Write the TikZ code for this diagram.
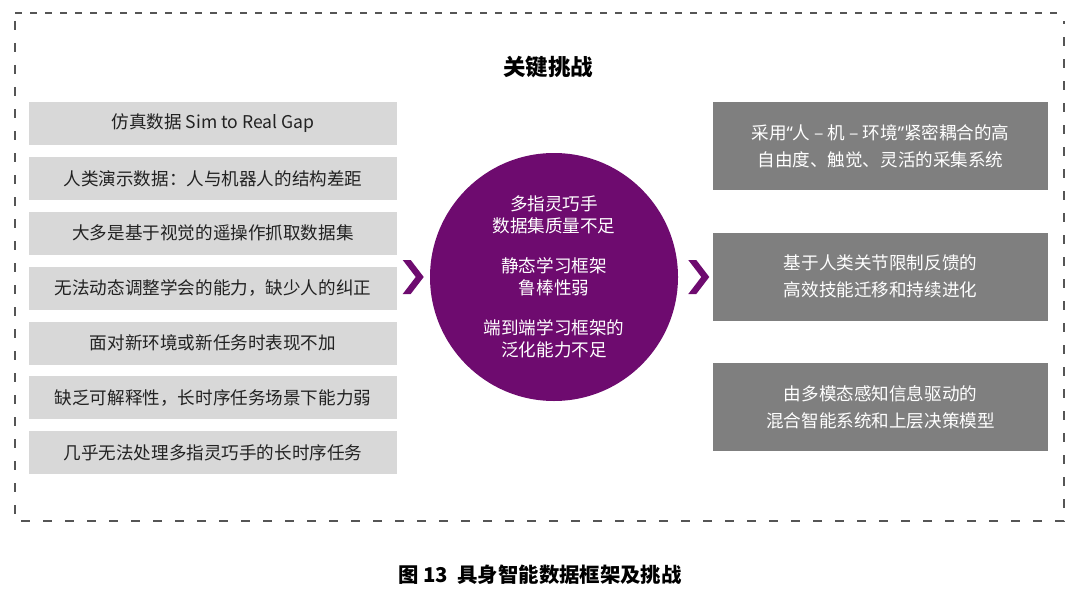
\documentclass[tikz,border=0pt]{standalone}
\usepackage{fontspec}
\setmainfont{Noto Sans CJK SC}
\newfontfamily\quotefont{Noto Sans}
\usetikzlibrary{positioning,calc}
\definecolor{hubpurple}{RGB}{110,11,111}
\definecolor{gaplight}{RGB}{216,216,216}
\definecolor{pathgray}{RGB}{127,127,127}
\definecolor{framegray}{RGB}{85,85,85}
\definecolor{inkdark}{RGB}{34,34,34}

\begin{document}
\begin{tikzpicture}[
  gap/.style={fill=gaplight, text=inkdark, minimum width=9.2cm, minimum height=1.075cm, inner sep=0pt, font=\fontsize{12.5pt}{15pt}\selectfont},
  route/.style={fill=pathgray, text=white, minimum width=8.375cm, minimum height=2.2cm, inner sep=0pt, align=center, font=\fontsize{12.5pt}{19pt}\selectfont},
  hub/.style={circle, fill=hubpurple, text=white, minimum size=6.2cm, inner sep=0pt, align=center, font=\fontsize{12.5pt}{15.6pt}\selectfont},
  chevron/.style={fill=hubpurple}
]
  \useasboundingbox[fill=white] (0,0) rectangle (27,14.825);

  % outer frame
  \draw[framegray, line width=1.2pt, dash pattern=on 0.175cm off 0.2cm] (0.375,14.5) -- (26.6,14.5);
  \draw[framegray, line width=1.2pt, dash pattern=on 0.225cm off 0.325cm] (0.375,14.3) -- (0.375,1.8) -- (26.6,1.8) -- (26.6,14.3);

  \node[font=\fontsize{16pt}{18pt}\selectfont\bfseries] (title) at (13.7,13.15) {关键挑战};

  % left: data gaps
  \node[gap] (g1) at (5.325,11.7375) {仿真数据 Sim to Real Gap};
  \node[gap, below=0.283cm of g1] (g2) {人类演示数据：人与机器人的结构差距};
  \node[gap, below=0.283cm of g2] (g3) {大多是基于视觉的遥操作抓取数据集};
  \node[gap, below=0.283cm of g3] (g4) {无法动态调整学会的能力，缺少人的纠正};
  \node[gap, below=0.283cm of g4] (g5) {面对新环境或新任务时表现不加};
  \node[gap, below=0.283cm of g5] (g6) {缺乏可解释性，长时序任务场景下能力弱};
  \node[gap, below=0.283cm of g6] (g7) {几乎无法处理多指灵巧手的长时序任务};

  % core challenges
  \node[hub] (core) at (13.85,7.9) {多指灵巧手\\数据集质量不足\\[13pt]静态学习框架\\鲁棒性弱\\[13pt]端到端学习框架的\\泛化能力不足};

  % right: routes
  \node[route] (r1) at (22.0125,11.175) {采用{\quotefont “}人 – 机 – 环境{\quotefont ”}紧密耦合的高\\自由度、触觉、灵活的采集系统};
  \node[route, below=1.05cm of r1] (r2) {基于人类关节限制反馈的\\高效技能迁移和持续进化};
  \node[route, below=1.05cm of r2] (r3) {由多模态感知信息驱动的\\混合智能系统和上层决策模型};

  % chevrons
  \coordinate (cl) at ($(core.west)+(-0.675,0.425)$);
  \coordinate (cr) at ($(core.east)+(0.25,0.425)$);
  \foreach \c in {cl,cr}
    \fill[chevron] (\c) -- ++(0.2,0) -- ++(0.325,-0.425) -- ++(-0.325,-0.425) -- ++(-0.2,0) -- ++(0.325,0.425) -- cycle;

  \node[font=\fontsize{14.5pt}{17pt}\selectfont\bfseries] (caption) at (13.5,0.45) {图 13\ \ 具身智能数据框架及挑战};
\end{tikzpicture}
\end{document}
